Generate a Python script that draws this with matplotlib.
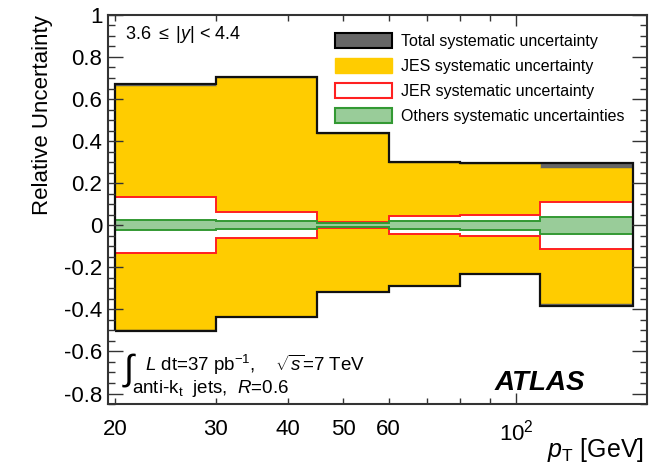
import matplotlib
matplotlib.use("Agg")
import matplotlib.pyplot as plt
from matplotlib.patches import Patch
from matplotlib.ticker import MultipleLocator

plt.rcParams['font.family'] = ['Liberation Sans', 'DejaVu Sans']
plt.rcParams['mathtext.fontset'] = 'custom'
plt.rcParams['mathtext.rm'] = 'Liberation Sans'
plt.rcParams['mathtext.it'] = 'Liberation Sans:italic'
plt.rcParams['mathtext.bf'] = 'Liberation Sans:bold'

# pT bin edges [GeV]
edges = [20, 30, 45, 60, 80, 110, 160]

# relative uncertainties per bin (up / down)
total_up = [0.671, 0.706, 0.44, 0.30, 0.295, 0.295]
total_down = [-0.505, -0.436, -0.317, -0.289, -0.233, -0.386]
jes_up = [0.66, 0.70, 0.436, 0.298, 0.293, 0.271]
jes_down = [-0.492, -0.432, -0.314, -0.286, -0.230, -0.368]
jer_up = [0.135, 0.062, 0.015, 0.042, 0.049, 0.111]
jer_down = [-0.133, -0.060, -0.012, -0.041, -0.049, -0.111]
oth_up = [0.027, 0.018, 0.012, 0.018, 0.020, 0.040]
oth_down = [-0.025, -0.019, -0.010, -0.019, -0.022, -0.040]

fig = plt.figure(figsize=(6.66, 4.66), dpi=100)
ax = fig.add_axes([0.162, 0.133, 0.809, 0.835])

ax.stairs(total_up, edges, baseline=total_down, fill=True,
          facecolor='#666666', edgecolor='none')
ax.stairs(jes_up, edges, baseline=jes_down, fill=True,
          facecolor='#ffcc00', edgecolor='#f0c000', linewidth=0.5)
ax.stairs(jer_up, edges, baseline=jer_down, fill=True,
          facecolor='white', edgecolor='#ff2020', linewidth=1.4)
ax.stairs(oth_up, edges, baseline=oth_down, fill=True,
          facecolor='#99cc99', edgecolor='#339933', linewidth=1.4)
# total outline on top
ax.stairs(total_up, edges, baseline=total_down, fill=True,
          facecolor='none', edgecolor='#111111', linewidth=1.6)

ax.set_xscale('log')
ax.set_xlim(19.45, 169)
ax.set_ylim(-0.85, 1.0)

ax.set_xticks([100], [r'$10^{2}$'])
ax.set_xticks([20, 30, 40, 50, 60, 70, 80, 90],
              ['20', '30', '40', '50', '60', '', '', ''], minor=True)
ax.yaxis.set_minor_locator(MultipleLocator(0.05))
ax.set_yticks([-0.8, -0.6, -0.4, -0.2, 0, 0.2, 0.4, 0.6, 0.8, 1.0],
              ['-0.8', '-0.6', '-0.4', '-0.2', '0', '0.2', '0.4', '0.6', '0.8', '1'])

ax.tick_params(axis='both', which='both', direction='in', top=True, right=True,
               width=1, color='#333333')
ax.tick_params(axis='y', which='major', length=11, labelsize=16, pad=4)
ax.tick_params(axis='y', which='minor', length=5)
ax.tick_params(axis='x', which='major', length=8, labelsize=16, pad=11)
ax.tick_params(axis='x', which='minor', length=4, labelsize=16, pad=11)
for s in ax.spines.values():
    s.set_linewidth(1.5)
    s.set_color('#333333')

ax.set_ylabel('Relative Uncertainty', loc='top', fontsize=16, labelpad=8)
ax.set_xlabel(r'$p_{\mathrm{T}}$ [GeV]', fontsize=18, ha='right', va='center')
ax.xaxis.set_label_coords(0.995, -0.118)

handles = [
    Patch(facecolor='#666666', edgecolor='black', linewidth=1.5),
    Patch(facecolor='#ffcc00', edgecolor='#ffcc00'),
    Patch(facecolor='white', edgecolor='#ff2020', linewidth=1.5),
    Patch(facecolor='#99cc99', edgecolor='#339933', linewidth=1.5),
]
labels = ['Total systematic uncertainty', 'JES systematic uncertainty',
          'JER systematic uncertainty', 'Others systematic uncertainties']
ax.legend(handles, labels, loc='upper left', bbox_to_anchor=(0.421, 0.953),
          frameon=False, fontsize=11.5, handlelength=3.56, handleheight=1.06,
          handletextpad=0.62, labelspacing=0.56, borderpad=0, borderaxespad=0)

ax.text(0.032, 0.949, r'3.6 $\leq$ |$y$| < 4.4', transform=ax.transAxes,
        ha='left', va='center', fontsize=13)
ax.text(0.026, 0.088, r'$\int$', transform=ax.transAxes, ha='left', va='center',
        fontsize=26)
ax.text(0.069, 0.10, r'$L$ dt=37 pb$^{-1}$,    $\sqrt{s}$=7 TeV',
        transform=ax.transAxes, ha='left', va='center', fontsize=13.5)
ax.text(0.045, 0.041, r'anti-k$_{\mathrm{t}}$  jets,  $R$=0.6',
        transform=ax.transAxes, ha='left', va='center', fontsize=13.5)
ax.text(0.885, 0.054, 'ATLAS', transform=ax.transAxes, ha='right', va='center',
        fontsize=20, fontweight='bold', fontstyle='italic')

fig.savefig('out.png', dpi=100)
